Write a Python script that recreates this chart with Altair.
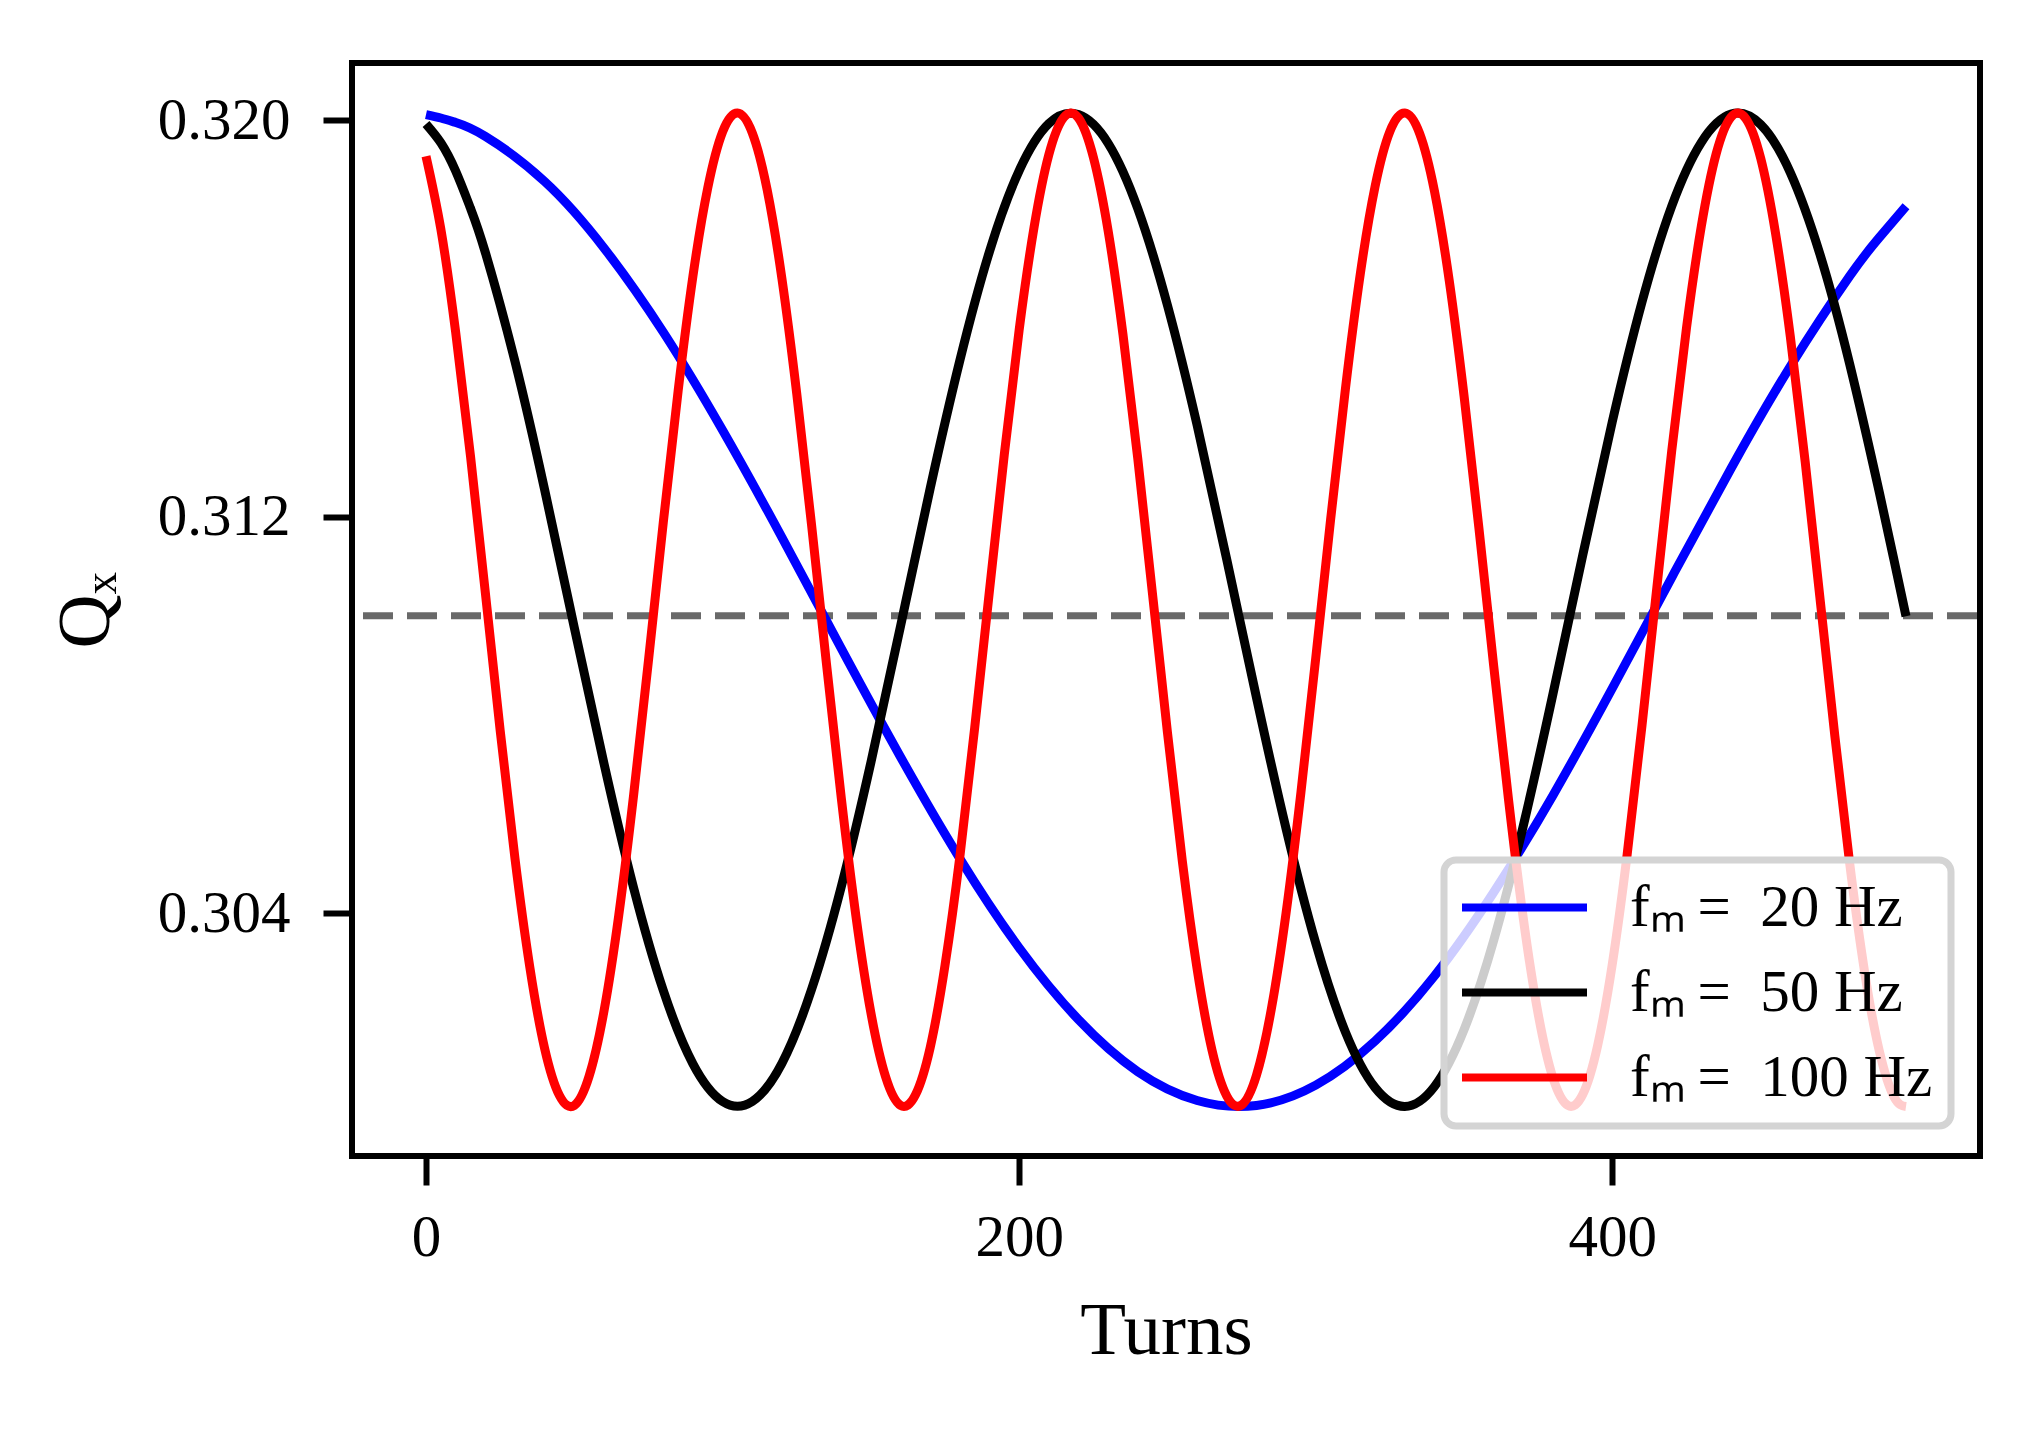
import altair as alt
import pandas as pd

# ---- data ----
turns_20 = [0, 5, 10, 20, 40, 60, 80, 100, 120, 140, 160, 180, 200, 220, 240, 260, 280,
            300, 320, 340, 360, 380, 400, 420, 440, 460, 480, 490, 499]
q_20 = [0.32011, 0.32004, 0.31995, 0.31967, 0.31876, 0.31742, 0.31572, 0.31374, 0.31158,
        0.30934, 0.30715, 0.30510, 0.30330, 0.30185, 0.30080, 0.30022, 0.30012, 0.30053,
        0.30142, 0.30273, 0.30442, 0.30638, 0.30854, 0.31077, 0.31297, 0.31503,
        0.31685, 0.31763, 0.31826]

turns_50 = [0, 5, 10, 15, 20, 30, 40, 50, 60, 70, 80, 90,
            100, 110, 120, 130, 140, 150, 160, 170, 180, 190,
            200, 210, 220, 230, 240, 250, 260, 270, 280, 290,
            300, 310, 320, 330, 340, 350, 360, 370, 380, 390,
            400, 410, 420, 430, 440, 450, 460, 470, 480, 490, 495, 499]
q_50 = [0.31992, 0.31954, 0.31897, 0.31822, 0.31733, 0.31513, 0.31254, 0.30976, 0.30702,
        0.30451, 0.30244, 0.30096,
        0.30020, 0.30020, 0.30097, 0.30246, 0.30453, 0.30704, 0.30979, 0.31257, 0.31515, 0.31735,
        0.31898, 0.31993, 0.32011, 0.31953, 0.31821, 0.31626, 0.31384, 0.31113, 0.30835, 0.30570,
        0.30339, 0.30160, 0.30048, 0.30010, 0.30050, 0.30165, 0.30345, 0.30577, 0.30843, 0.31122,
        0.31392, 0.31633, 0.31826, 0.31955, 0.32012, 0.31991, 0.31894, 0.31729, 0.31508, 0.31249,
        0.31111, 0.30999]

turns_100 = [0, 5, 10, 15, 20, 25, 30, 35, 40, 45,
             50, 55, 60, 65, 70, 75, 80, 85, 90, 95,
             100, 105, 110, 115, 120, 125, 130, 135, 140, 145,
             150, 155, 160, 165, 170, 175, 180, 185, 190, 195,
             200, 205, 210, 215, 220, 225, 230, 235, 240, 245,
             250, 255, 260, 265, 270, 275, 280, 285, 290, 295,
             300, 305, 310, 315, 320, 325, 330, 335, 340, 345,
             350, 355, 360, 365, 370, 375, 380, 385, 390, 395,
             400, 405, 410, 415, 420, 425, 430, 435, 440, 445,
             450, 455, 460, 465, 470, 475, 480, 485, 490, 495, 499]
q_100 = [0.31927, 0.31780, 0.31572, 0.31322, 0.31047, 0.30769, 0.30510, 0.30291, 0.30127, 0.30032,
         0.30012, 0.30071, 0.30202, 0.30396, 0.30638, 0.30909, 0.31188, 0.31453, 0.31685, 0.31863,
         0.31976, 0.32014, 0.31974, 0.31860, 0.31680, 0.31448, 0.31183, 0.30904, 0.30633, 0.30392,
         0.30199, 0.30069, 0.30012, 0.30033, 0.30129, 0.30295, 0.30514, 0.30774, 0.31052, 0.31326,
         0.31577, 0.31783, 0.31930, 0.32005, 0.32004, 0.31925, 0.31776, 0.31567, 0.31316, 0.31041,
         0.30764, 0.30505, 0.30287, 0.30124, 0.30031, 0.30013, 0.30073, 0.30206, 0.30401, 0.30644,
         0.30915, 0.31194, 0.31458, 0.31689, 0.31866, 0.31977, 0.32014, 0.31973, 0.31857, 0.31676,
         0.31443, 0.31177, 0.30898, 0.30628, 0.30388, 0.30196, 0.30067, 0.30012, 0.30034, 0.30132,
         0.30298, 0.30519, 0.30779, 0.31057, 0.31332, 0.31581, 0.31786, 0.31932, 0.32006, 0.32003,
         0.31923, 0.31772, 0.31563, 0.31311, 0.31035, 0.30758, 0.30501, 0.30283, 0.30122, 0.30029,
         0.30010]

series_labels = ["f\u2098\u2009=\u200220 Hz", "f\u2098\u2009=\u200250 Hz", "f\u2098\u2009=\u2002100 Hz"]
series_colors = ["#0000ff", "#000000", "#ff0000"]
q_reference = [0.31]
x_ticks = [0, 200, 400]
y_ticks = [0.304, 0.312, 0.320]
x_domain = [-24.95, 523.95]
y_domain = [0.29910, 0.32115]

FONT = "Liberation Serif"


def frame(turns, q, label):
    return pd.DataFrame({"turn": turns, "Q": q, "series": label})


x_enc = alt.X(
    "turn:Q",
    scale=alt.Scale(domain=x_domain, nice=False, zero=False),
    axis=alt.Axis(values=x_ticks, title="Turns", titleY=197,
                  titleBaseline="alphabetic", labelPadding=23),
)
y_enc = alt.Y(
    "Q:Q",
    scale=alt.Scale(domain=y_domain, nice=False, zero=False),
    axis=alt.Axis(values=y_ticks, format=".3f", title="Q\u2093", titleX=-244,
                  titleY=547, titleAngle=270, titleBaseline="alphabetic",
                  labelPadding=33),
)
color_enc = alt.Color(
    "series:N",
    scale=alt.Scale(domain=series_labels, range=series_colors),
    legend=alt.Legend(
        title=None, orient="none", legendX=1092, legendY=797,
        symbolType="M-2.5,0L2.5,0", symbolSize=2500, symbolStrokeWidth=8,
        symbolOffset=33, labelOffset=76, labelFont=FONT, labelFontSize=59,
        labelLimit=800, labelColor="black", padding=18, rowPadding=25,
        fillColor="rgba(255,255,255,0.8)", strokeColor="#d4d4d4",
        cornerRadius=12,
    ),
)

rule = alt.Chart(pd.DataFrame({"Q": q_reference})).mark_rule(
    color="#696969", strokeWidth=7, strokeDash=[30, 14], strokeDashOffset=-3
).encode(y=y_enc)

layers = [rule]
for turns, q, label in [(turns_20, q_20, series_labels[0]),
                        (turns_50, q_50, series_labels[1]),
                        (turns_100, q_100, series_labels[2])]:
    layers.append(
        alt.Chart(frame(turns, q, label)).mark_line(
            strokeWidth=9, interpolate="natural", strokeJoin="round"
        ).encode(x=x_enc, y=y_enc, color=color_enc)
    )

chart = alt.layer(*layers).properties(
    width=1628, height=1093,
    autosize=alt.AutoSizeParams(type="none"),
    padding={"left": 344, "top": 55, "right": 40, "bottom": 240},
    background="white",
).configure_view(
    stroke="black", strokeWidth=6, fill="white"
).configure_axis(
    labelFont=FONT, labelFontSize=59, labelColor="black",
    titleFont=FONT, titleFontSize=75, titleFontWeight="normal", titleColor="black",
    tickSize=29, tickWidth=6, tickColor="black", domain=False, grid=False,
).configure_legend(
    strokeWidth=7
)

chart.save("out.html", embed_options={"renderer": "svg", "actions": False})
